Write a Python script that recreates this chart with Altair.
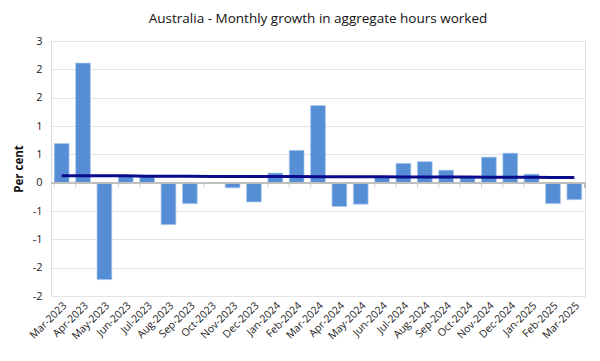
import altair as alt
import pandas as pd

months = ["Mar-2023", "Apr-2023", "May-2023", "Jun-2023", "Jul-2023", "Aug-2023",
          "Sep-2023", "Oct-2023", "Nov-2023", "Dec-2023", "Jan-2024", "Feb-2024",
          "Mar-2024", "Apr-2024", "May-2024", "Jun-2024", "Jul-2024", "Aug-2024",
          "Sep-2024", "Oct-2024", "Nov-2024", "Dec-2024", "Jan-2025", "Feb-2025",
          "Mar-2025"]
growth = [0.69, 2.11, -1.71, 0.11, 0.11, -0.74, -0.37, 0.0, -0.09, -0.34, 0.17, 0.57,
          1.36, -0.42, -0.38, 0.10, 0.34, 0.37, 0.22, 0.10, 0.45, 0.52, 0.15, -0.37,
          -0.30]
average = [0.12, 0.12, 0.12, 0.12, 0.115, 0.115, 0.115, 0.11, 0.11, 0.11, 0.11, 0.11,
           0.105, 0.105, 0.105, 0.105, 0.10, 0.10, 0.10, 0.10, 0.095, 0.095, 0.095,
           0.09, 0.09]
y_ticks = [-2.0, -1.5, -1.0, -0.5, 0.0, 0.5, 1.0, 1.5, 2.0, 2.5]

df = pd.DataFrame({"month": months, "growth": growth, "average": average})

FONT = "Open Sans"
xsort = months

x_scale = alt.Scale(paddingInner=0.31, paddingOuter=0.155)
x_axis = alt.Axis(labelAngle=-45, domain=False, ticks=False,
                  labelFont=FONT, labelFontSize=10.5, labelColor="#222222",
                  labelPadding=4, labelOverlap=False)
y_scale = alt.Scale(domain=[-2.0, 2.5], nice=False, zero=False)
y_axis = alt.Axis(values=y_ticks, domain=False, ticks=False, labelOverlap=False,
                  labelExpr="(datum.value < 0 ? '-' : '') + toString(round(abs(datum.value)))",
                  labelFont=FONT, labelFontSize=11, labelColor="#222222",
                  labelPadding=9, gridColor="#E3E3E3", gridWidth=1,
                  titleFont=FONT, titleFontSize=11.5, titleFontWeight="bold",
                  titleColor="#111111", titlePadding=8)

bars = alt.Chart(df).mark_bar(color="#558ED5", stroke="#A9C6EC", strokeWidth=0.7).encode(
    x=alt.X("month:N", sort=xsort, title=None, scale=x_scale, axis=x_axis),
    y=alt.Y("growth:Q", scale=y_scale, title="Per cent", axis=y_axis),
)

zero_rule = alt.Chart(df).mark_rule(color="#BFBFBF", strokeWidth=1).encode(
    y=alt.datum(0, scale=y_scale, axis=y_axis, title="Per cent"),
    x=alt.value(0), x2=alt.value(534))

zero_ticks = alt.Chart(df).mark_tick(color="#BFBFBF", orient="vertical", size=5,
                                     thickness=1, yOffset=2.5).encode(
    x=alt.X("month:N", sort=xsort, bandPosition=0, title=None, scale=x_scale, axis=x_axis),
    y=alt.datum(0, scale=y_scale, axis=y_axis, title="Per cent"))

end_tick = alt.Chart(df).mark_rule(color="#BFBFBF", strokeWidth=1).encode(
    x=alt.value(534),
    y=alt.datum(0, scale=y_scale, axis=y_axis, title="Per cent"),
    y2=alt.datum(-0.09))

line = alt.Chart(df).mark_line(color="#0A0A8C", strokeWidth=3).encode(
    x=alt.X("month:N", sort=xsort, title=None, scale=x_scale, axis=x_axis),
    y=alt.Y("average:Q", scale=y_scale, title="Per cent", axis=y_axis))

chart = alt.layer(bars, zero_rule, zero_ticks, end_tick, line).properties(
    width=534, height=255,
    title=alt.TitleParams("Australia - Monthly growth in aggregate hours worked",
                          font=FONT, fontSize=13.5, fontWeight="normal",
                          color="#111111", offset=10, anchor="middle"),
    padding={"left": 5, "top": 3, "right": 5, "bottom": 5},
).configure_view(stroke=None).configure(background="white")

chart.save("out.html", embed_options={"renderer": "svg", "actions": False})
